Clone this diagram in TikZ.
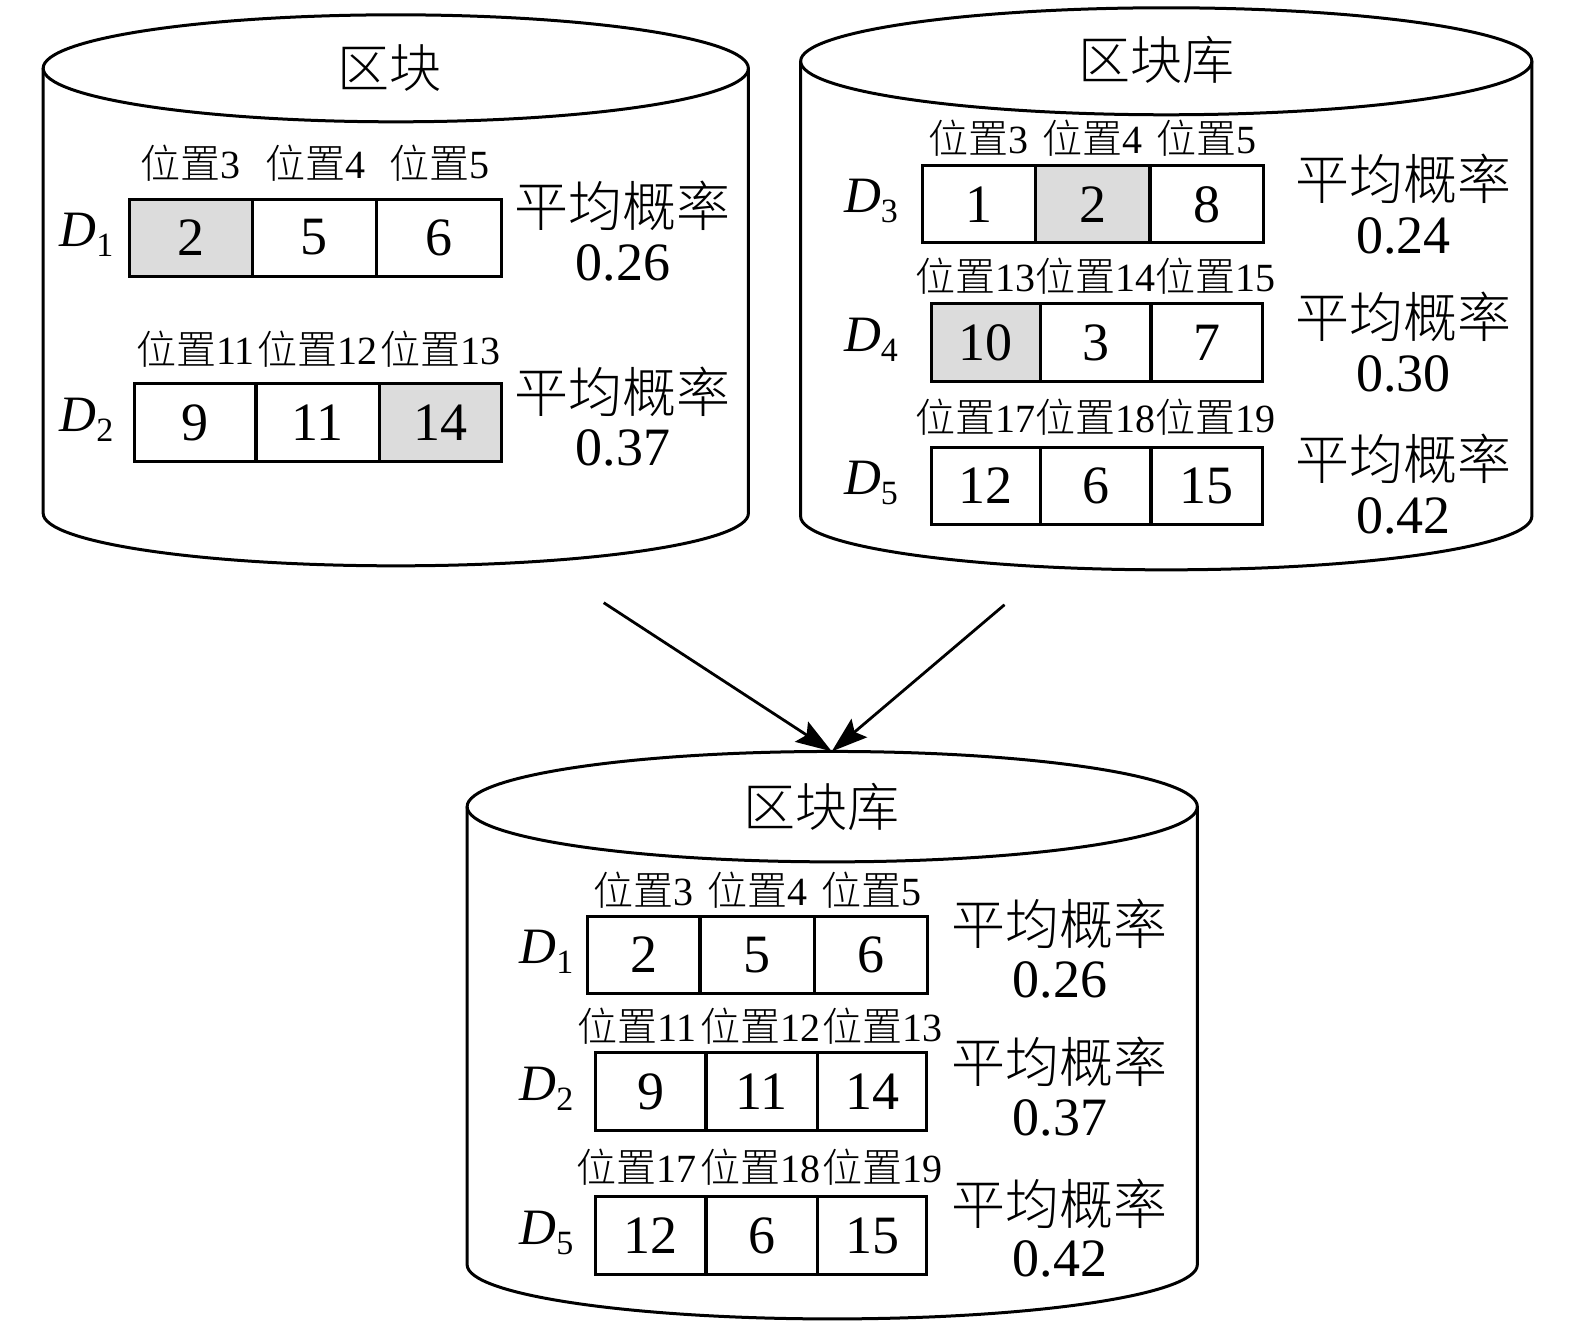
\documentclass[tikz,border=0pt]{standalone}
\usepackage{fontspec}
\setmainfont{Liberation Serif}
\IfFontExistsTF{Noto Sans CJK SC Light}{\newfontfamily\cjk{Noto Sans CJK SC Light}}{\newfontfamily\cjk{Noto Sans CJK SC}}
\usetikzlibrary{arrows.meta}
\definecolor{cellgray}{RGB}{220,220,220}
\newcommand\wz[1]{{\cjk 位置}#1}
\newcommand\dlab[1]{\textit{D}\raisebox{-10pt}{\fontsize{34}{34}\selectfont #1}}
\newcommand\tcell[7]{\node[cellbox,minimum width=#4pt,minimum height=#5pt,#7] (#1) at (#2,#3) {#6};}
\begin{document}
\begin{tikzpicture}[x=1.0045pt,y=-1.0045pt,
  cyl/.style={line width=3pt},
  cellbox/.style={draw,line width=3pt,inner sep=0pt,font=\fontsize{54}{60}\selectfont},
  hl/.style={fill=cellgray},
  ttl/.style={inner sep=0pt,font=\cjk\fontsize{52}{60}\selectfont},
  poslab/.style={inner sep=0pt,font=\fontsize{40}{46}\selectfont},
  probt/.style={inner sep=0pt,font=\cjk\fontsize{54}{60}\selectfont},
  probv/.style={inner sep=0pt,font=\fontsize{54}{60}\selectfont},
  dl/.style={inner sep=0pt,anchor=base,font=\fontsize{51}{56}\selectfont},
  arr/.style={line width=2.8pt,-{Stealth[length=36pt,width=24pt,inset=6pt]}}
]
\useasboundingbox (0,0) rectangle (1567.9,1317.1);
% ---------------- left cylinder ----------------
\draw[cyl] (394,68) ellipse [x radius=352.6pt, y radius=53.5pt];
\draw[cyl] (43,68) -- (43,511) arc[start angle=180,end angle=360,x radius=352.6pt,y radius=52.5pt] -- (745,68);
\node[ttl] (t1) at (388,68) {区块};
\node[poslab] (l1a) at (190,162) {\wz{3}};
\node[poslab] (l1b) at (314,162) {\wz{4}};
\node[poslab] (l1c) at (438,162) {\wz{5}};
\tcell{a11}{190}{236.5}{123}{77}{2}{hl}
\tcell{a12}{313}{236.5}{124}{77}{5}{}
\tcell{a13}{437.5}{236.5}{125}{77}{6}{}
\node[dl] (d1a) at (86,245) {\dlab{1}};
\node[probt] (p1a) at (620,205) {平均概率};
\node[probv] (v1a) at (620,262) {0.26};
\node[poslab] (l2a) at (194.5,348) {\wz{11}};
\node[poslab] (l2b) at (316.5,348) {\wz{12}};
\node[poslab] (l2c) at (439,348) {\wz{13}};
\tcell{a21}{194.5}{421}{121}{78}{9}{}
\tcell{a22}{316.5}{421}{123}{78}{11}{}
\tcell{a23}{439}{421}{122}{78}{14}{hl}
\node[dl] (d2a) at (86,430) {\dlab{2}};
\node[probt] (p2a) at (620,390) {平均概率};
\node[probv] (v2a) at (620,446) {0.37};
% ---------------- right cylinder ----------------
\draw[cyl] (1161,61) ellipse [x radius=365.6pt, y radius=53.5pt];
\draw[cyl] (797,61) -- (797,514) arc[start angle=180,end angle=360,x radius=365.6pt,y radius=53.5pt] -- (1525,61);
\node[ttl] (t2) at (1151,60) {区块库};
\node[poslab] (l3a) at (974.5,138) {\wz{3}};
\node[poslab] (l3b) at (1088,138) {\wz{4}};
\node[poslab] (l3c) at (1201.5,138) {\wz{5}};
\tcell{b31}{974.5}{203.5}{113}{77}{1}{}
\tcell{b32}{1088}{203.5}{114}{77}{2}{hl}
\tcell{b33}{1201.5}{203.5}{113}{77}{8}{}
\node[dl] (d3) at (867,212) {\dlab{3}};
\node[probt] (p3) at (1397,178) {平均概率};
\node[probv] (v3) at (1397,235) {0.24};
\node[poslab] (l4a) at (971,275) {\wz{13}};
\node[poslab] (l4b) at (1091,275) {\wz{14}};
\node[poslab] (l4c) at (1210,275) {\wz{15}};
\tcell{b41}{981.5}{341}{109}{78}{10}{hl}
\tcell{b42}{1091}{341}{110}{78}{3}{}
\tcell{b43}{1201.5}{341}{111}{78}{7}{}
\node[dl] (d4) at (867,350) {\dlab{4}};
\node[probt] (p4) at (1397,315) {平均概率};
\node[probv] (v4) at (1397,372) {0.30};
\node[poslab] (l5a) at (971,415) {\wz{17}};
\node[poslab] (l5b) at (1091,415) {\wz{18}};
\node[poslab] (l5c) at (1210,415) {\wz{19}};
\tcell{b51}{981.5}{483.5}{109}{77}{12}{}
\tcell{b52}{1091}{483.5}{110}{77}{6}{}
\tcell{b53}{1201.5}{483.5}{111}{77}{15}{}
\node[dl] (d5) at (867,492) {\dlab{5}};
\node[probt] (p5) at (1397,457) {平均概率};
\node[probv] (v5) at (1397,514) {0.42};
% ---------------- bottom cylinder ----------------
\draw[cyl] (828.5,803) ellipse [x radius=365.1pt, y radius=55.2pt];
\draw[cyl] (465,803) -- (465,1259) arc[start angle=180,end angle=360,x radius=365.1pt,y radius=54.2pt] -- (1192,803);
\node[ttl] (t3) at (818,803) {区块库};
\node[poslab] (m1a) at (641,886) {\wz{3}};
\node[poslab] (m1b) at (754,886) {\wz{4}};
\node[poslab] (m1c) at (867.5,886) {\wz{5}};
\tcell{c11}{641}{950.5}{112}{77}{2}{}
\tcell{c12}{754}{950.5}{114}{77}{5}{}
\tcell{c13}{867.5}{950.5}{113}{77}{6}{}
\node[dl] (e1) at (544,959) {\dlab{1}};
\node[probt] (q1) at (1055,920) {平均概率};
\node[probv] (w1) at (1055,975) {0.26};
\node[poslab] (m2a) at (634,1022) {\wz{11}};
\node[poslab] (m2b) at (757,1022) {\wz{12}};
\node[poslab] (m2c) at (879,1022) {\wz{13}};
\tcell{c21}{648}{1087}{110}{78}{9}{}
\tcell{c22}{758.5}{1087}{111}{78}{11}{}
\tcell{c23}{868.5}{1087}{109}{78}{14}{}
\node[dl] (e2) at (544,1096) {\dlab{2}};
\node[probt] (q2) at (1055,1057) {平均概率};
\node[probv] (w2) at (1055,1113) {0.37};
\node[poslab] (m5a) at (634,1162) {\wz{17}};
\node[poslab] (m5b) at (757,1162) {\wz{18}};
\node[poslab] (m5c) at (879,1162) {\wz{19}};
\tcell{c51}{648}{1230}{110}{78}{12}{}
\tcell{c52}{758.5}{1230}{111}{78}{6}{}
\tcell{c53}{868.5}{1230}{109}{78}{15}{}
\node[dl] (e5) at (544,1239) {\dlab{5}};
\node[probt] (q5) at (1055,1198) {平均概率};
\node[probv] (w5) at (1055,1253) {0.42};
% ---------------- arrows ----------------
\coordinate (src1) at (601,600);
\coordinate (src2) at (1000,602);
\coordinate (dst) at (828,748);
\draw[arr] (src1) -- (dst);
\draw[arr] (src2) -- (dst);
\end{tikzpicture}
\end{document}
